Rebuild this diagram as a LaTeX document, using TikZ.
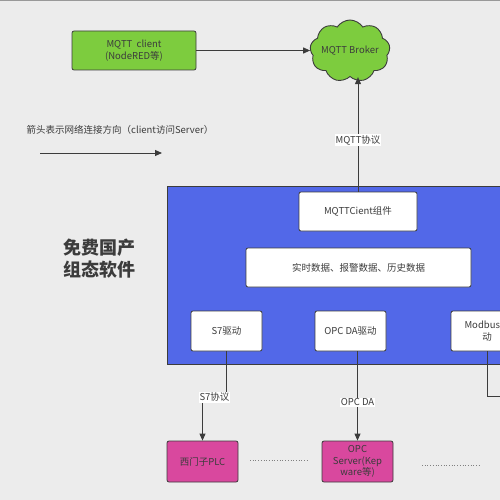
\documentclass[tikz,border=0pt]{standalone}
\usepackage{fontspec}
\setmainfont{Noto Sans CJK SC}
\usetikzlibrary{shapes, shapes.symbols, arrows.meta, positioning, calc}
\definecolor{bggray}{RGB}{236, 236, 236}
\definecolor{mqttgreen}{RGB}{125, 204, 62}
\definecolor{scadablue}{RGB}{82, 104, 232}
\definecolor{plcpink}{RGB}{217, 72, 158}
\definecolor{inkgray}{RGB}{60, 60, 60}
\tikzset{
  box/.style={draw=inkgray, line width=0.8pt, rounded corners=2pt, align=center,
    inner sep=2pt, text=inkgray, font=\fontsize{9.5}{11.5}\selectfont},
  whitebox/.style={box, fill=white},
  arr/.style={draw=inkgray, line width=0.9pt, -{Triangle[length=7pt,width=6pt]}},
  wire/.style={draw=inkgray, line width=0.9pt},
  lbl/.style={fill=white, inner sep=1pt, text=inkgray, font=\fontsize{9.5}{11.5}\selectfont},
}

\begin{document}
\begin{tikzpicture}[x=1pt, y=-1pt]
  \clip (0,0) rectangle (500,500);
  \fill[bggray] (0,0) rectangle (500,500);
  \draw[gray!80, line width=1pt] (0,0.5) -- (500,0.5);

  % top: client and broker
  \node[box, fill=mqttgreen, minimum width=124pt, minimum height=39pt] (client) at (134, 50.5)
    {MQTT\ \ client\\(NodeRED等)};
  \node[cloud, cloud puffs=9, cloud puff arc=115, draw=inkgray, line width=0.9pt,
    fill=mqttgreen, minimum width=80pt, minimum height=62pt, inner sep=0pt,
    label={[text=inkgray, font=\fontsize{9.5}{11.5}\selectfont]center:MQTT Broker}] (broker)
    at (350, 51) {};
  \draw[arr] (client.east) -- (client.east -| broker.west);

  % legend
  \node[text=inkgray, font=\fontsize{9.5}{11.5}\selectfont] (legend) at (120, 130)
    {箭头表示网络连接方向（client访问Server）};
  \coordinate (lgA) at (40, 153);
  \coordinate (lgB) at (162, 153);
  \draw[arr] (lgA) -- (lgB);

  % scada software block
  \node[draw=inkgray, line width=0.8pt, fill=scadablue, minimum width=343pt, minimum height=178pt,
    inner sep=0pt] (scada) at (338.5, 275) {};
  \node[align=center, text=inkgray, font=\fontsize{18}{22}\selectfont\bfseries] (title) at (99, 259)
    {免费国产\\组态软件};

  \node[whitebox, minimum width=118pt, minimum height=39pt] (mqc) at (358, 211.5) {MQTTCient组件};
  \node[whitebox, minimum width=225pt, minimum height=39pt] (data) at (358.5, 267.5)
    {实时数据、报警数据、历史数据};
  \node[whitebox, minimum width=71pt, minimum height=40pt] (s7) at (226.5, 331) {S7驱动};
  \node[whitebox, minimum width=71pt, minimum height=40pt] (opc) at (350.5, 331) {OPC DA驱动};
  \node[whitebox, minimum width=72pt, minimum height=40pt] (modbus) at (487, 331) {Modbus驱\\动};

  \draw[arr] (mqc.north) -- node[lbl, pos=0.45] {MQTT协议} (mqc.north |- broker.south);

  % devices
  \node[box, fill=plcpink, minimum width=71pt, minimum height=41pt] (plc) at (202.5, 461.5) {西门子PLC};
  \node[box, fill=plcpink, minimum width=71pt, minimum height=41pt] (server) at (357.5, 461.5)
    {OPC\\Server(Kep\\ware等)};

  \draw[arr] (s7.south) -- ++(0, 46) -| node[lbl, pos=0.25] {S7协议} (plc.north);
  \draw[arr] (opc.south -| server.north) -- node[lbl, pos=0.57] {OPC DA} (server.north);
  \coordinate (mbEnd) at (520, 396);
  \draw[wire] (modbus.south) |- (mbEnd);

  % more devices
  \coordinate (dotA) at (250, 460);
  \coordinate (dotB) at (307, 460);
  \coordinate (dotC) at (422, 465);
  \coordinate (dotD) at (480, 465);
  \draw[gray, dotted, line width=0.7pt] (dotA) -- (dotB);
  \draw[gray, dotted, line width=0.7pt] (dotC) -- (dotD);
\end{tikzpicture}
\end{document}
